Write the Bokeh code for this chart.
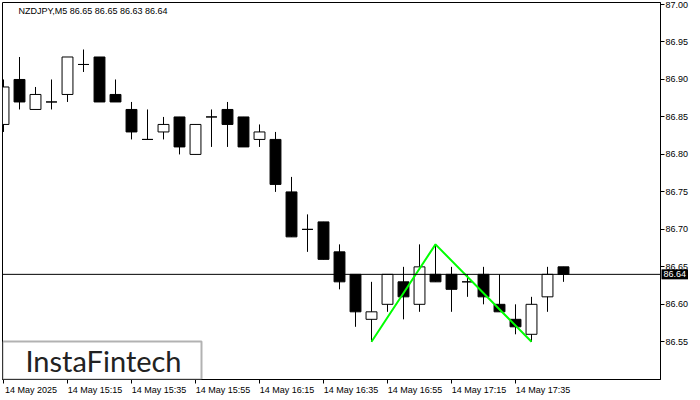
from bokeh.plotting import figure
from bokeh.models import (Range1d, FixedTicker, Span, Label, BoxAnnotation,
                          NumeralTickFormatter, LinearAxis)
from bokeh.embed import file_html
from bokeh.resources import INLINE

# ---------------- data ----------------
title_text = "NZDJPY,M5  86.65 86.65 86.63 86.64"
opens  = [86.84, 86.90, 86.86, 86.87, 86.88, 86.92, 86.93, 86.88, 86.86, 86.82,
          86.83, 86.85, 86.80, 86.85, 86.86, 86.85, 86.82, 86.82, 86.75, 86.70,
          86.71, 86.67, 86.64, 86.58, 86.60, 86.63, 86.60, 86.64, 86.64, 86.63,
          86.64, 86.60, 86.58, 86.56, 86.61, 86.65]
highs  = [86.90, 86.93, 86.89, 86.90, 86.93, 86.94, 86.93, 86.90, 86.87, 86.86,
          86.85, 86.85, 86.84, 86.86, 86.87, 86.85, 86.84, 86.83, 86.77, 86.72,
          86.71, 86.68, 86.64, 86.63, 86.64, 86.65, 86.68, 86.68, 86.65, 86.64,
          86.65, 86.64, 86.60, 86.61, 86.65, 86.65]
lows   = [86.83, 86.86, 86.86, 86.86, 86.87, 86.91, 86.87, 86.87, 86.82, 86.82,
          86.82, 86.80, 86.80, 86.81, 86.81, 86.81, 86.81, 86.75, 86.69, 86.67,
          86.66, 86.62, 86.57, 86.55, 86.59, 86.58, 86.59, 86.63, 86.59, 86.61,
          86.60, 86.59, 86.56, 86.55, 86.59, 86.63]
closes = [86.89, 86.87, 86.88, 86.87, 86.93, 86.92, 86.87, 86.87, 86.83, 86.82,
          86.84, 86.81, 86.84, 86.85, 86.84, 86.81, 86.83, 86.76, 86.69, 86.70,
          86.66, 86.63, 86.59, 86.59, 86.64, 86.61, 86.65, 86.63, 86.62, 86.63,
          86.61, 86.59, 86.57, 86.60, 86.64, 86.64]
time_tick_idx = [0, 4, 8, 12, 16, 20, 24, 28, 32]
time_tick_labels = ["14 May 2025", "14 May 15:15", "14 May 15:35", "14 May 15:55",
                    "14 May 16:15", "14 May 16:35", "14 May 16:55", "14 May 17:15",
                    "14 May 17:35"]
price_ticks = [86.55, 86.60, 86.65, 86.70, 86.75, 86.80, 86.85, 86.90, 86.95, 87.00]
pattern_idx = [23, 27, 33]
pattern_price = [86.55, 86.68, 86.55]
current_price = 86.64
logo_text = "InstaFintech"

# ---------------- layout ----------------
FW, FH = 658, 377
x0, x1 = -0.0625, 41.0625
y0, y1 = 86.4997, 87.0027
XS, YS = x1 - x0, y1 - y0
PPU = FW / XS
LABEL_SHIFT = 27.5 / PPU       # MT4 time labels start at their tick
AX_FONT = "Liberation Sans"

p = figure(frame_width=FW, frame_height=FH,
           x_range=Range1d(x0, x1), y_range=Range1d(y0, y1),
           output_backend="svg", toolbar_location=None,
           y_axis_location="right", x_axis_location=None,
           min_border_left=2, min_border_top=2,
           min_border_right=38, min_border_bottom=16)
p.grid.visible = False
p.outline_line_color = "black"
p.outline_line_width = 1
p.background_fill_color = "white"
p.border_fill_color = "white"

# right price axis
ya = p.yaxis[0]
ya.ticker = FixedTicker(ticks=price_ticks)
ya.formatter = NumeralTickFormatter(format="0.00")
ya.major_tick_out = 4
ya.major_tick_in = 0
ya.minor_tick_line_color = None
ya.major_label_standoff = 1
ya.major_label_text_font = AX_FONT
ya.major_label_text_font_size = "9px"
ya.major_label_text_color = "black"
ya.axis_line_color = "black"
ya.major_tick_line_color = "black"

# bottom time axis: labels on a shifted range so that they start at the tick;
# the visible tick marks are the minor ticks placed back at the candle index
p.extra_x_ranges = {"lab": Range1d(x0 - LABEL_SHIFT, x1 - LABEL_SHIFT)}
xa = LinearAxis(x_range_name="lab",
                ticker=FixedTicker(ticks=time_tick_idx,
                                   minor_ticks=[k - LABEL_SHIFT for k in time_tick_idx]),
                major_label_overrides={k: lab for k, lab in zip(time_tick_idx, time_tick_labels)})
xa.major_tick_line_color = None
xa.major_tick_out = 3
xa.major_tick_in = 0
xa.minor_tick_line_color = "black"
xa.minor_tick_out = 4
xa.minor_tick_in = 0
xa.major_label_standoff = 1
xa.major_label_text_font = AX_FONT
xa.major_label_text_font_size = "9px"
xa.major_label_text_color = "black"
xa.axis_line_color = "black"
p.add_layout(xa, "below")

# candles
idx = list(range(len(opens)))
p.segment(idx, highs, idx, lows, line_color="black", line_width=1)
tops = [max(o, c) for o, c in zip(opens, closes)]
bots = [min(o, c) for o, c in zip(opens, closes)]
fills = ["white" if c >= o else "black" for o, c in zip(opens, closes)]
p.vbar(x=idx, width=0.68, top=tops, bottom=bots, fill_color=fills,
       line_color="black", line_width=1)

# current price line
p.add_layout(Span(location=current_price, dimension="width",
                  line_color="black", line_width=1))

# double top pattern
p.line(pattern_idx, pattern_price, line_color="#00ff00", line_width=2)

# price tag (in a side panel so that it is not clipped to the frame)
p.add_layout(Label(x=FW + 1, x_units="screen", y=current_price,
                   text=f"{current_price:.2f}", text_align="left",
                   text_baseline="middle", text_font=AX_FONT,
                   text_font_size="9px", text_color="white",
                   background_fill_color="black", padding=2), "below")

# title
p.add_layout(Label(x=x0 + 16 / 658 * XS, y=y1 - 8.5 / 377 * YS, text=title_text,
                   text_align="left", text_baseline="middle",
                   text_font=AX_FONT, text_font_size="9px", text_color="black"))

# logo
p.add_layout(BoxAnnotation(left=x0, right=x0 + 199 / 658 * XS,
                           bottom=y0, top=y0 + 38 / 377 * YS,
                           fill_color="white", fill_alpha=1.0,
                           line_color="black", line_width=2))
p.add_layout(Label(x=x0 + 101 / 658 * XS, y=y0 + 19 / 377 * YS, text=logo_text,
                   text_align="center", text_baseline="middle",
                   text_font="Lato", text_font_size="29px", text_color="#222222"))

html = file_html(p, INLINE)
open("out.html", "w").write(html)
